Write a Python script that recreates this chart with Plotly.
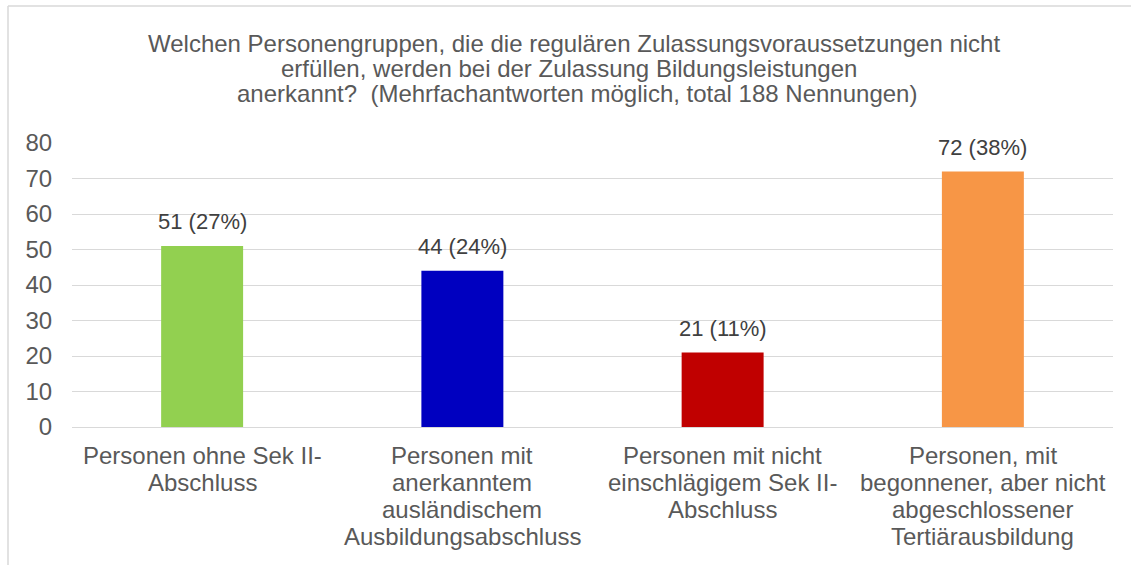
import plotly.graph_objects as go

categories = [
    "Personen ohne Sek II-\nAbschluss",
    "Personen mit\nanerkanntem\nausländischem\nAusbildungsabschluss",
    "Personen mit nicht\neinschlägigem Sek II-\nAbschluss",
    "Personen, mit\nbegonnener, aber nicht\nabgeschlossener\nTertiärausbildung",
]
values = [51, 44, 21, 72]
percents = [27, 24, 11, 38]
colors = ["#92D050", "#0000C0", "#C00000", "#F79646"]
y_ticks = [0, 10, 20, 30, 40, 50, 60, 70, 80]

title_lines = [
    "Welchen Personengruppen, die die regulären Zulassungsvoraussetzungen nicht",
    "erfüllen, werden bei der Zulassung Bildungsleistungen",
    "anerkannt?  (Mehrfachantworten möglich, total 188 Nennungen)",
]

FONT = "Liberation Sans, Arial, sans-serif"
W, H = 1131, 565
ml, mr, mt, mb = 72, 18, 143, 138
PW, PH = W - ml - mr, H - mt - mb


def px_x(px):
    return (px - ml) / PW


def px_y(py):
    return (H - mb - py) / PH


x_keys = [c.replace("\n", " ") for c in categories]

fig = go.Figure(go.Bar(
    x=x_keys, y=values,
    marker=dict(color=colors, line=dict(width=0)),
    hoverinfo="skip",
))

annotations = []
# title lines
title_centers_x = [574, 569, 577]
title_centers_y = [44, 69, 94]
for line, cx, cy in zip(title_lines, title_centers_x, title_centers_y):
    annotations.append(dict(text=line, xref="paper", yref="paper", x=px_x(cx), y=px_y(cy),
                            xanchor="center", yanchor="middle", showarrow=False,
                            font=dict(size=24, color="#595959", family=FONT)))
# data labels
for k, v, p in zip(x_keys, values, percents):
    annotations.append(dict(text=f"{v} ({p}%)", xref="x", yref="y", x=k, y=v,
                            xanchor="center", yanchor="middle", yshift=24, showarrow=False,
                            font=dict(size=22, color="#404040", family=FONT)))
# category labels (tight line spacing)
cat_line_y = [455, 482, 509, 536]
for k, c in zip(x_keys, categories):
    for i, line in enumerate(c.split("\n")):
        annotations.append(dict(text=line, xref="x", yref="paper", x=k, y=px_y(cat_line_y[i]),
                                xanchor="center", yanchor="middle", showarrow=False,
                                font=dict(size=24, color="#595959", family=FONT)))

fig.update_layout(
    width=W, height=H,
    margin=dict(l=ml, r=mr, t=mt, b=mb, pad=0),
    paper_bgcolor="white", plot_bgcolor="white",
    font=dict(family=FONT, size=24, color="#595959"),
    bargap=0.685,
    showlegend=False,
    xaxis=dict(showgrid=False, showline=False, ticks="", showticklabels=False),
    yaxis=dict(range=[0, 80], tickvals=y_ticks, showgrid=True, gridcolor="#D9D9D9", gridwidth=1,
               zeroline=True, zerolinecolor="#D9D9D9", zerolinewidth=1,
               showline=False, ticks="outside", ticklen=14, tickcolor="rgba(0,0,0,0)",
               tickfont=dict(size=24, color="#595959", family=FONT)),
    annotations=annotations,
    shapes=[
        dict(type="line", xref="paper", yref="paper",
             x0=px_x(8), x1=px_x(W + 20), y0=px_y(6), y1=px_y(6),
             line=dict(color="#D9D9D9", width=1.5)),
        dict(type="line", xref="paper", yref="paper",
             x0=px_x(8), x1=px_x(8), y0=px_y(6), y1=px_y(H + 20),
             line=dict(color="#D9D9D9", width=1.5)),
    ],
)

fig.write_html("out.html", config={"displayModeBar": False, "staticPlot": True},
               post_script="document.body.style.margin='0';document.body.style.overflow='hidden';")
